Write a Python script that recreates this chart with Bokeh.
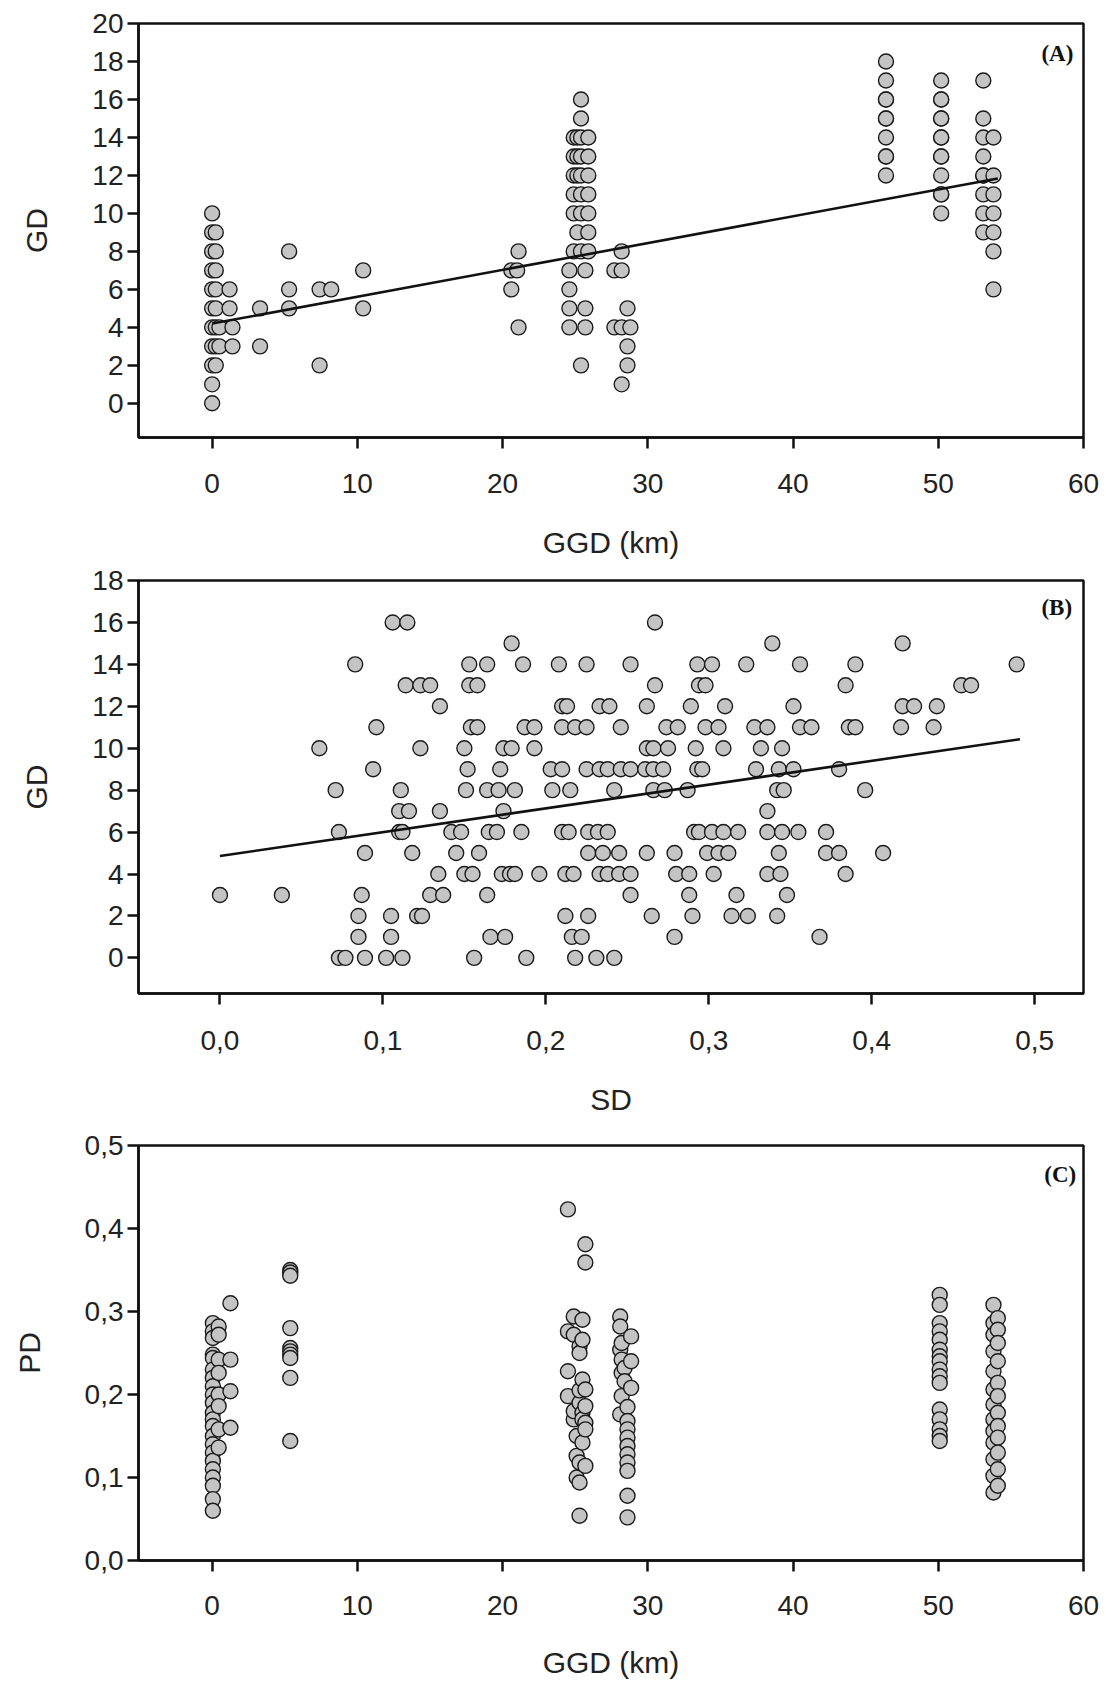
from bokeh.plotting import figure
from bokeh.layouts import column
from bokeh.models import FixedTicker, CustomJSTickFormatter, Range1d, Label
from bokeh.embed import file_html
from bokeh.resources import INLINE

# ---------------- data ----------------
# Panel A: GD vs GGD (km), columns of (GGD, [GD values])
cols_a = [
    (0.0, [0, 1, 2, 3, 4, 5, 6, 7, 8, 9, 10]),
    (0.25, [2, 3, 4, 5, 6, 7, 8, 9]),
    (0.5, [3, 4]),
    (1.2, [5, 6]),
    (1.4, [3, 4]),
    (3.3, [3, 5]),
    (5.3, [5, 6, 8]),
    (7.4, [2, 6]),
    (8.2, [6]),
    (10.4, [5, 7]),
    (20.6, [6, 7]),
    (21.0, [7]),
    (21.1, [4, 8]),
    (24.6, [4, 5, 6, 7]),
    (24.9, [8, 10, 11, 12, 13, 14]),
    (25.15, [9, 12, 13, 14]),
    (25.4, [2, 8, 10, 11, 12, 13, 14, 15, 16]),
    (25.7, [4, 5, 7]),
    (25.9, [8, 9, 10, 11, 12, 13, 14]),
    (27.7, [4, 7]),
    (28.2, [1, 4, 7, 8]),
    (28.6, [2, 3, 5]),
    (28.8, [4]),
    (46.4, [12, 13, 13, 14, 15, 15, 16, 16, 17, 18]),
    (50.2, [10, 11, 11, 12, 13, 13, 14, 14, 15, 15, 16, 16, 17]),
    (53.1, [9, 10, 11, 12, 12, 13, 14, 15, 17]),
    (53.8, [6, 8, 9, 10, 11, 12, 14]),
]
fit_a_x = [0.0, 54.1]
fit_a_y = [4.2, 11.84]

# Panel B: GD vs SD, rows of (GD, [SD values])
rows_b = [
    (16, [0.106, 0.115, 0.267]),
    (15, [0.179, 0.339, 0.419]),
    (14, [0.083, 0.153, 0.164, 0.186, 0.208, 0.225, 0.252, 0.293, 0.302, 0.323, 0.356, 0.390, 0.489]),
    (13, [0.114, 0.123, 0.129, 0.153, 0.158, 0.267, 0.294, 0.298, 0.384, 0.455, 0.461]),
    (12, [0.135, 0.210, 0.213, 0.233, 0.239, 0.262, 0.289, 0.310, 0.352, 0.419, 0.426, 0.440]),
    (11, [0.096, 0.154, 0.158, 0.187, 0.193, 0.210, 0.218, 0.225, 0.246, 0.274, 0.281, 0.298,
          0.306, 0.328, 0.336, 0.356, 0.363, 0.386, 0.390, 0.418, 0.438]),
    (10, [0.061, 0.123, 0.150, 0.174, 0.179, 0.193, 0.262, 0.266, 0.275, 0.292, 0.309, 0.332, 0.345]),
    (9, [0.094, 0.152, 0.172, 0.203, 0.210, 0.225, 0.233, 0.238, 0.246, 0.252, 0.261, 0.266,
         0.272, 0.293, 0.296, 0.329, 0.343, 0.352, 0.380]),
    (8, [0.071, 0.111, 0.151, 0.164, 0.171, 0.181, 0.204, 0.215, 0.242, 0.266, 0.273, 0.287,
         0.342, 0.346, 0.396]),
    (7, [0.110, 0.116, 0.135, 0.174, 0.336]),
    (6, [0.073, 0.110, 0.112, 0.142, 0.148, 0.165, 0.170, 0.185, 0.210, 0.214, 0.226, 0.232,
         0.238, 0.291, 0.294, 0.302, 0.309, 0.318, 0.336, 0.345, 0.355, 0.372]),
    (5, [0.089, 0.118, 0.145, 0.159, 0.226, 0.235, 0.245, 0.262, 0.279, 0.299, 0.306, 0.312,
         0.343, 0.372, 0.380, 0.407]),
    (4, [0.134, 0.150, 0.155, 0.173, 0.178, 0.181, 0.196, 0.212, 0.217, 0.233, 0.238, 0.245,
         0.252, 0.280, 0.288, 0.303, 0.336, 0.344, 0.384]),
    (3, [0.0, 0.038, 0.087, 0.129, 0.137, 0.164, 0.252, 0.288, 0.317, 0.348]),
    (2, [0.085, 0.105, 0.121, 0.124, 0.212, 0.226, 0.265, 0.290, 0.314, 0.324, 0.342]),
    (1, [0.085, 0.105, 0.166, 0.175, 0.216, 0.222, 0.279, 0.368]),
    (0, [0.073, 0.077, 0.089, 0.102, 0.112, 0.156, 0.188, 0.218, 0.231, 0.242]),
]
fit_b_x = [0.0, 0.491]
fit_b_y = [4.86, 10.43]

# Panel C: PD vs GGD (km), columns of (GGD, [PD values])
cols_c = [
    (0.05, [0.286, 0.276, 0.268, 0.248, 0.244, 0.230, 0.220, 0.210, 0.200, 0.190, 0.178,
            0.170, 0.162, 0.150, 0.140, 0.130, 0.120, 0.110, 0.100, 0.090, 0.074, 0.060]),
    (0.45, [0.282, 0.272, 0.242, 0.226, 0.200, 0.186, 0.158, 0.136]),
    (1.26, [0.310, 0.242, 0.204, 0.160]),
    (5.38, [0.350, 0.347, 0.343, 0.280, 0.256, 0.252, 0.248, 0.244, 0.220, 0.144]),
    (24.5, [0.423, 0.276, 0.228, 0.198]),
    (24.9, [0.294, 0.272, 0.170, 0.180]),
    (25.1, [0.150, 0.126, 0.100]),
    (25.3, [0.258, 0.250, 0.190, 0.205, 0.118, 0.094, 0.054]),
    (25.5, [0.290, 0.266, 0.218, 0.178, 0.142, 0.170]),
    (25.7, [0.381, 0.359, 0.206, 0.186, 0.166, 0.158, 0.114]),
    (28.1, [0.294, 0.282, 0.254, 0.176]),
    (28.2, [0.262, 0.242, 0.226, 0.198]),
    (28.4, [0.232, 0.216]),
    (28.6, [0.185, 0.168, 0.158, 0.148, 0.138, 0.128, 0.118, 0.108, 0.078, 0.052]),
    (28.85, [0.270, 0.240, 0.208]),
    (50.1, [0.320, 0.308, 0.286, 0.276, 0.266, 0.254, 0.246, 0.240, 0.230, 0.222, 0.214,
            0.182, 0.170, 0.158, 0.150, 0.144]),
    (53.8, [0.308, 0.286, 0.272, 0.252, 0.228, 0.206, 0.188, 0.170, 0.156, 0.142, 0.122,
            0.102, 0.082]),
    (54.1, [0.292, 0.278, 0.262, 0.240, 0.214, 0.198, 0.178, 0.162, 0.148, 0.130, 0.110,
            0.090]),
]

ticks_ggd = [0, 10, 20, 30, 40, 50, 60]
ticks_gd_a = [0, 2, 4, 6, 8, 10, 12, 14, 16, 18, 20]
ticks_sd = [0.0, 0.1, 0.2, 0.3, 0.4, 0.5]
ticks_gd_b = [0, 2, 4, 6, 8, 10, 12, 14, 16, 18]
ticks_pd = [0.0, 0.1, 0.2, 0.3, 0.4, 0.5]


def flatten_cols(cols):
    xs, ys = [], []
    for x, vals in cols:
        for v in vals:
            xs.append(x)
            ys.append(v)
    return xs, ys


def flatten_rows(rows):
    xs, ys = [], []
    for y, vals in rows:
        for v in vals:
            xs.append(v)
            ys.append(y)
    return xs, ys


FONT = "Liberation Sans"
COMMA_JS = "return tick.toFixed(1).replace('.', ',');"


def make_fig(height, top, bottom, xr, yr, xticks, yticks, xlabel, ylabel, xcomma, ycomma,
             xtick_standoff, xlabel_standoff):
    p = figure(width=1103, height=height, x_range=Range1d(*xr), y_range=Range1d(*yr),
               output_backend="svg", toolbar_location=None,
               min_border_left=138, min_border_right=20,
               min_border_top=top, min_border_bottom=bottom,
               background_fill_color="white", border_fill_color="white")
    p.xgrid.visible = False
    p.ygrid.visible = False
    p.outline_line_color = "#111111"
    p.outline_line_width = 2.5
    p.outline_line_alpha = 1.0
    p.xaxis.ticker = FixedTicker(ticks=xticks)
    p.yaxis.ticker = FixedTicker(ticks=yticks)
    if xcomma:
        p.xaxis.formatter = CustomJSTickFormatter(code=COMMA_JS)
    if ycomma:
        p.yaxis.formatter = CustomJSTickFormatter(code=COMMA_JS)
    for ax in (p.xaxis[0], p.yaxis[0]):
        ax.axis_line_color = "#111111"
        ax.axis_line_width = 2.5
        ax.major_tick_line_color = "#111111"
        ax.major_tick_line_width = 2.5
        ax.major_tick_out = 11
        ax.major_tick_in = 0
        ax.minor_tick_out = 0
        ax.minor_tick_in = 0
        ax.major_label_text_font = FONT
        ax.major_label_text_font_size = "28px"
        ax.major_label_text_color = "#222222"
        ax.axis_label_text_font = FONT
        ax.axis_label_text_font_size = "30px"
        ax.axis_label_text_font_style = "normal"
        ax.axis_label_text_color = "#222222"
    p.xaxis.axis_label = xlabel
    p.yaxis.axis_label = ylabel
    p.xaxis.major_label_standoff = xtick_standoff
    p.xaxis.axis_label_standoff = xlabel_standoff
    p.yaxis.major_label_standoff = 4
    p.yaxis.axis_label_standoff = 36
    return p


def add_points(p, xs, ys):
    p.scatter(xs, ys, marker="circle", size=15, fill_color="#c4c4c4",
              line_color="#1a1a1a", line_width=1.4)


def add_tag(p, x, y, text):
    p.add_layout(Label(x=x, y=y, text=text, text_font="Liberation Serif",
                       text_font_style="bold", text_font_size="23px",
                       text_align="right", text_baseline="middle", text_color="#111111"))


# Panel A
pa = make_fig(565, 23, 128, (-5.07, 60), (-1.8, 20), ticks_ggd, ticks_gd_a,
              "GGD (km)", "GD", False, False, 25, 30)
xa, ya = flatten_cols(cols_a)
add_points(pa, xa, ya)
pa.line(fit_a_x, fit_a_y, line_color="#111111", line_width=2.6)
add_tag(pa, 59.3, 18.4, "(A)")

# Panel B
pb = make_fig(556, 15, 128, (-0.05, 0.53), (-1.7, 18), ticks_sd, ticks_gd_b,
              "SD", "GD", True, False, 26, 30)
add_points(pb, *flatten_rows(rows_b))
pb.line(fit_b_x, fit_b_y, line_color="#111111", line_width=2.6)
add_tag(pb, 0.523, 16.7, "(B)")

# Panel C
pc = make_fig(560, 24, 119, (-5.07, 60), (0.0, 0.5), ticks_ggd, ticks_pd,
              "GGD (km)", "PD", False, True, 24, 28)
xc, yc = flatten_cols(cols_c)
add_points(pc, xc, yc)
add_tag(pc, 59.5, 0.465, "(C)")

layout = column(pa, pb, pc, spacing=0)
open("out.html", "w").write(file_html(layout, INLINE))
